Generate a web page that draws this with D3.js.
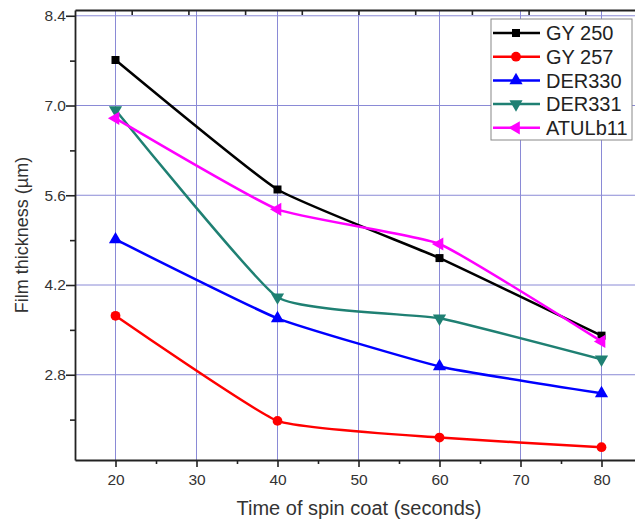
<!DOCTYPE html>
<html>
<head>
<meta charset="utf-8">
<script src="https://cdn.jsdelivr.net/npm/d3@7"></script>
<style>
  body { margin: 0; background: #fff; }
  svg { font-family: Arial, "Liberation Sans", sans-serif; }
</style>
</head>
<body>
<div id="chart"></div>
<script>
const times = [20, 40, 60, 80];
const seriesNames = ["GY 250", "GY 257", "DER330", "DER331", "ATULb11"];
const gy250 = [7.71, 5.69, 4.62, 3.41];
const gy257 = [3.72, 2.08, 1.82, 1.67];
const der330 = [4.91, 3.68, 2.93, 2.51];
const der331 = [6.93, 4.01, 3.68, 3.04];
const atulb11 = [6.80, 5.38, 4.84, 3.32];
const xTicks = [20, 30, 40, 50, 60, 70, 80];
const yTicks = [2.8, 4.2, 5.6, 7.0, 8.4];

const width = 635, height = 525;
const margin = { top: 10, left: 75, bottom: 65, right: -7 };

const series = [
  { name: seriesNames[0], values: gy250, color: "#000000", symbol: d3.symbolSquare, size: 64, rot: 0 },
  { name: seriesNames[1], values: gy257, color: "#ff0000", symbol: d3.symbolCircle, size: 75, rot: 0 },
  { name: seriesNames[2], values: der330, color: "#0000ff", symbol: d3.symbolTriangle, size: 75, rot: 0 },
  { name: seriesNames[3], values: der331, color: "#1f8073", symbol: d3.symbolTriangle, size: 75, rot: 180 },
  { name: seriesNames[4], values: atulb11, color: "#ff00ff", symbol: d3.symbolTriangle, size: 75, rot: -90 }
];

const svg = d3.select("#chart").append("svg")
  .attr("width", width)
  .attr("height", height);

const x = d3.scaleLinear().domain([15, 85]).range([margin.left, width - margin.right]);
const y = d3.scaleLinear().domain([1.47, 8.49]).range([height - margin.bottom, margin.top]);

// grid
const grid = svg.append("g").attr("stroke", "#8a8ad6").attr("stroke-width", 1);
grid.selectAll("line.v").data(xTicks).join("line")
  .attr("x1", d => x(d)).attr("x2", d => x(d))
  .attr("y1", y.range()[0]).attr("y2", y.range()[1]);
grid.selectAll("line.h").data(yTicks).join("line")
  .attr("x1", x.range()[0]).attr("x2", x.range()[1])
  .attr("y1", d => y(d)).attr("y2", d => y(d));

// lines
const line = d3.line()
  .x((d, i) => x(times[i]))
  .y(d => y(d))
  .curve(d3.curveCardinal.tension(0.6));

series.forEach(s => {
  svg.append("path")
    .datum(s.values)
    .attr("fill", "none")
    .attr("stroke", s.color)
    .attr("stroke-width", 2.5)
    .attr("d", line);
  svg.append("g").selectAll("path").data(s.values).join("path")
    .attr("transform", (d, i) => `translate(${x(times[i])},${y(d)}) rotate(${s.rot})`)
    .attr("d", d3.symbol().type(s.symbol).size(s.size))
    .attr("fill", s.color);
});

// axes
const xAxis = d3.axisBottom(x)
  .tickValues(d3.range(20, 85, 5))
  .tickFormat(d => d % 10 === 0 ? d : "")
  .tickSizeOuter(0);
const gx = svg.append("g")
  .attr("transform", `translate(0,${y.range()[0]})`)
  .call(xAxis);
gx.selectAll(".tick line").attr("y2", d => d % 10 === 0 ? 7 : 4);

const yAxis = d3.axisLeft(y)
  .tickValues(d3.range(2.1, 8.45, 0.7))
  .tickFormat(d => Math.round(d * 10) % 14 === 0 ? d3.format(".1f")(d) : "")
  .tickSizeOuter(0);
const gy = svg.append("g")
  .attr("transform", `translate(${x.range()[0]},0)`)
  .call(yAxis);
gy.selectAll(".tick line").attr("x2", d => Math.round(d * 10) % 14 === 0 ? -9 : -5);

// top frame with its own small inward ticks
const gt = svg.append("g")
  .attr("transform", `translate(0,${y.range()[1]})`)
  .call(d3.axisTop(x).tickValues(d3.range(22, 85, 7)).tickFormat("").tickSizeOuter(0).tickSizeInner(-5));

[gx, gy, gt].forEach(g => {
  g.select(".domain").attr("stroke", "#222").attr("stroke-width", 1.8);
  g.selectAll(".tick line").attr("stroke", "#222").attr("stroke-width", 1.6);
  g.selectAll(".tick text").attr("fill", "#333").attr("font-size", 15.5);
});
gx.selectAll(".tick text").attr("dy", "1.05em");

// axis titles
svg.append("text")
  .attr("x", 359)
  .attr("y", 515)
  .attr("text-anchor", "middle")
  .attr("fill", "#333")
  .attr("font-size", 20)
  .text("Time of spin coat (seconds)");

svg.append("text")
  .attr("transform", `translate(28,${(y.range()[0] + y.range()[1]) / 2}) rotate(-90)`)
  .attr("text-anchor", "middle")
  .attr("fill", "#333")
  .attr("font-size", 18)
  .text("Film thickness (µm)");

// legend
const legend = svg.append("g").attr("transform", "translate(491,19)");
legend.append("rect")
  .attr("width", 141).attr("height", 121)
  .attr("fill", "#fff").attr("stroke", "#888").attr("stroke-width", 1);
series.forEach((s, i) => {
  const row = legend.append("g").attr("transform", `translate(0,${14 + i * 23.7})`);
  row.append("line").attr("x1", 2).attr("x2", 49)
    .attr("stroke", s.color).attr("stroke-width", 2.5);
  row.append("path")
    .attr("transform", `translate(25,0) rotate(${s.rot})`)
    .attr("d", d3.symbol().type(s.symbol).size(s.size))
    .attr("fill", s.color);
  row.append("text")
    .attr("x", 55).attr("dy", "0.36em")
    .attr("font-size", 20).attr("fill", "#222")
    .text(s.name);
});
</script>
</body>
</html>
